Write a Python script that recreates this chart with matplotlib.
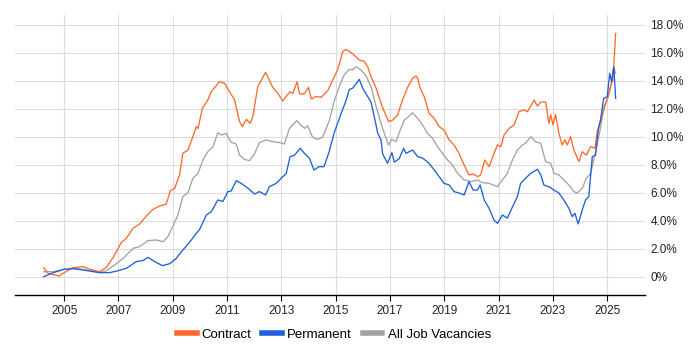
import matplotlib
matplotlib.use("Agg")
import matplotlib.pyplot as plt
from matplotlib.ticker import FuncFormatter

# (year, % of vacancies)
contract = [
    (2004.25, 0.66), (2004.41, 0.26), (2004.82, 0.07), (2005.0, 0.31), (2005.33, 0.66),
    (2005.7, 0.74), (2005.95, 0.55), (2006.31, 0.38), (2006.56, 0.69), (2006.86, 1.57),
    (2007.11, 2.48), (2007.29, 2.76), (2007.54, 3.48), (2007.78, 3.79), (2008.03, 4.36),
    (2008.27, 4.83), (2008.52, 5.07), (2008.76, 5.21), (2008.91, 6.16), (2009.07, 6.33),
    (2009.25, 7.29), (2009.37, 8.83), (2009.56, 9.07), (2009.74, 10.02), (2009.87, 10.74),
    (2009.93, 10.6), (2010.09, 12.05), (2010.29, 12.64), (2010.42, 13.24), (2010.72, 13.95),
    (2010.91, 13.83), (2011.09, 13.24), (2011.28, 12.64), (2011.36, 11.93), (2011.46, 11.1),
    (2011.56, 10.74), (2011.71, 11.26), (2011.85, 10.98), (2011.95, 11.45), (2012.13, 13.6),
    (2012.42, 14.62), (2012.68, 13.55), (2012.87, 13.12), (2013.05, 12.57), (2013.17, 12.88),
    (2013.32, 13.24), (2013.42, 13.1), (2013.58, 13.95), (2013.67, 13.07), (2013.85, 13.1),
    (2014.0, 13.55), (2014.1, 12.71), (2014.28, 12.9), (2014.46, 12.83), (2014.71, 13.31),
    (2014.89, 14.07), (2015.07, 14.79), (2015.26, 16.1), (2015.38, 16.26), (2015.5, 16.12),
    (2015.63, 15.93), (2015.87, 15.5), (2016.05, 15.4), (2016.18, 15.02), (2016.3, 14.31),
    (2016.49, 13.48), (2016.67, 12.4), (2016.79, 11.81), (2016.95, 11.1), (2017.1, 11.21),
    (2017.28, 11.57), (2017.46, 12.64), (2017.65, 13.55), (2017.83, 14.19), (2017.96, 14.36),
    (2018.02, 14.19), (2018.1, 13.55), (2018.26, 12.88), (2018.44, 11.69), (2018.63, 11.33),
    (2018.81, 10.74), (2018.99, 10.5), (2019.18, 9.79), (2019.36, 9.43), (2019.54, 8.83),
    (2019.73, 8.0), (2019.91, 7.29), (2020.06, 7.36), (2020.22, 7.17), (2020.34, 7.29),
    (2020.49, 8.36), (2020.65, 7.88), (2020.83, 8.83), (2020.96, 9.43), (2021.08, 9.3),
    (2021.2, 10.14), (2021.39, 10.62), (2021.57, 10.86), (2021.75, 11.81), (2021.94, 11.93),
    (2022.06, 11.8), (2022.18, 12.2), (2022.31, 12.64), (2022.43, 12.2), (2022.55, 12.5),
    (2022.73, 12.5), (2022.79, 11.8), (2022.85, 10.98), (2022.92, 11.6), (2023.0, 10.86),
    (2023.1, 11.6), (2023.22, 10.26), (2023.34, 9.43), (2023.44, 9.79), (2023.53, 9.43),
    (2023.65, 10.02), (2023.77, 9.07), (2023.96, 8.24), (2024.08, 8.95), (2024.23, 8.7),
    (2024.39, 9.31), (2024.55, 9.2), (2024.63, 10.38), (2024.82, 11.57), (2025.0, 12.76),
    (2025.12, 13.6), (2025.21, 14.07), (2025.31, 17.4),
]

permanent = [
    (2004.25, 0.02), (2004.6, 0.31), (2005.0, 0.55), (2005.33, 0.6), (2005.7, 0.5),
    (2006.31, 0.31), (2006.68, 0.31), (2006.99, 0.45), (2007.29, 0.62), (2007.66, 1.1),
    (2007.9, 1.17), (2008.09, 1.4), (2008.33, 1.1), (2008.62, 0.81), (2008.89, 0.95),
    (2009.13, 1.33), (2009.32, 1.81), (2009.5, 2.21), (2009.68, 2.64), (2009.87, 3.12),
    (2009.99, 3.4), (2010.24, 4.43), (2010.42, 4.67), (2010.66, 5.5), (2010.85, 5.4),
    (2011.03, 6.1), (2011.15, 6.14), (2011.34, 6.88), (2011.52, 6.69), (2011.76, 6.36),
    (2012.01, 5.93), (2012.19, 6.1), (2012.42, 5.86), (2012.56, 6.45), (2012.81, 6.69),
    (2012.99, 7.05), (2013.18, 7.4), (2013.32, 8.6), (2013.48, 8.7), (2013.7, 9.19),
    (2013.85, 8.83), (2014.03, 8.5), (2014.2, 7.64), (2014.39, 7.88), (2014.57, 7.88),
    (2014.76, 8.95), (2014.94, 10.26), (2015.18, 11.57), (2015.38, 12.6), (2015.5, 13.38),
    (2015.63, 13.5), (2015.75, 13.8), (2015.87, 14.12), (2015.99, 13.5), (2016.18, 12.88),
    (2016.3, 12.5), (2016.42, 11.45), (2016.55, 10.26), (2016.67, 9.79), (2016.73, 8.79),
    (2016.91, 8.12), (2017.07, 8.88), (2017.16, 8.2), (2017.34, 8.45), (2017.5, 9.19),
    (2017.59, 8.83), (2017.83, 9.07), (2018.02, 8.6), (2018.2, 8.5), (2018.44, 8.12),
    (2018.63, 7.64), (2018.81, 7.17), (2018.99, 6.69), (2019.18, 6.57), (2019.36, 6.1),
    (2019.54, 6.0), (2019.73, 5.86), (2019.91, 6.81), (2020.06, 6.21), (2020.22, 6.21),
    (2020.32, 6.57), (2020.47, 5.5), (2020.65, 4.9), (2020.83, 4.07), (2020.96, 3.83),
    (2021.14, 4.43), (2021.32, 4.2), (2021.51, 5.0), (2021.69, 5.74), (2021.81, 6.69),
    (2021.99, 7.05), (2022.18, 7.4), (2022.43, 7.69), (2022.55, 7.3), (2022.67, 6.57),
    (2022.85, 6.45), (2023.04, 6.21), (2023.22, 6.0), (2023.4, 5.5), (2023.59, 4.9),
    (2023.71, 4.31), (2023.81, 4.55), (2023.93, 3.79), (2024.08, 4.79), (2024.2, 5.5),
    (2024.32, 5.74), (2024.45, 8.6), (2024.57, 8.7), (2024.67, 10.5), (2024.75, 11.2),
    (2024.87, 12.76), (2025.0, 12.88), (2025.09, 14.55), (2025.16, 13.95), (2025.24, 15.02),
    (2025.31, 12.76),
]

all_jobs = [
    (2004.25, 0.38), (2004.6, 0.38), (2005.0, 0.55), (2005.33, 0.6), (2005.7, 0.55),
    (2006.31, 0.31), (2006.56, 0.45), (2006.86, 0.86), (2007.17, 1.33), (2007.54, 2.05),
    (2007.78, 2.17), (2008.09, 2.6), (2008.4, 2.64), (2008.64, 2.52), (2008.82, 2.88),
    (2009.0, 3.6), (2009.19, 4.43), (2009.37, 5.74), (2009.56, 6.02), (2009.74, 7.05),
    (2009.93, 7.4), (2010.11, 8.36), (2010.29, 8.95), (2010.48, 9.3), (2010.66, 10.31),
    (2010.79, 10.14), (2010.97, 10.26), (2011.15, 9.62), (2011.34, 9.5), (2011.46, 8.71),
    (2011.64, 8.4), (2011.83, 8.31), (2012.01, 8.79), (2012.19, 9.6), (2012.44, 9.79),
    (2012.68, 9.67), (2012.93, 9.6), (2013.11, 9.5), (2013.3, 10.62), (2013.57, 11.17),
    (2013.67, 10.93), (2013.85, 10.62), (2013.97, 10.8), (2014.15, 9.98), (2014.34, 9.83),
    (2014.52, 9.98), (2014.77, 11.2), (2014.94, 12.52), (2015.13, 13.6), (2015.31, 14.43),
    (2015.5, 14.83), (2015.63, 14.79), (2015.75, 15.02), (2015.93, 14.79), (2016.12, 14.36),
    (2016.3, 13.6), (2016.49, 12.17), (2016.67, 10.98), (2016.79, 10.26), (2016.95, 9.43),
    (2017.07, 9.83), (2017.22, 9.67), (2017.4, 10.62), (2017.53, 11.21), (2017.71, 11.5),
    (2017.83, 11.74), (2018.02, 11.33), (2018.2, 10.86), (2018.38, 10.26), (2018.57, 9.9),
    (2018.75, 9.3), (2018.93, 8.83), (2019.12, 8.36), (2019.3, 8.0), (2019.49, 7.4),
    (2019.73, 6.93), (2019.98, 6.81), (2020.22, 6.93), (2020.4, 6.74), (2020.65, 6.69),
    (2020.96, 6.45), (2021.14, 6.93), (2021.32, 7.4), (2021.51, 8.36), (2021.69, 9.07),
    (2021.88, 9.43), (2021.99, 9.55), (2022.18, 10.02), (2022.36, 9.67), (2022.55, 9.55),
    (2022.73, 8.24), (2022.92, 8.12), (2023.04, 7.4), (2023.22, 7.29), (2023.4, 6.93),
    (2023.59, 6.57), (2023.77, 6.1), (2023.89, 6.0), (2024.08, 6.33), (2024.23, 7.05),
    (2024.39, 7.4), (2024.57, 8.95), (2024.75, 10.62), (2024.87, 12.14), (2025.0, 12.64),
    (2025.12, 13.48), (2025.24, 15.02), (2025.31, 14.55),
]

year_ticks = list(range(2005, 2026, 2))
pct_ticks = [0, 2, 4, 6, 8, 10, 12, 14, 16, 18]

plt.rcParams["font.family"] = ["Liberation Sans", "DejaVu Sans"]

fig = plt.figure(figsize=(7, 3.5), dpi=100)
ax = fig.add_axes([0.0214, 0.157, 0.9, 0.8])

def split(pts):
    return [p[0] for p in pts], [p[1] for p in pts]

x, y = split(all_jobs)
ax.plot(x, y, color="#a3a3a3", lw=0.95, label="All Job Vacancies", zorder=2)
x, y = split(contract)
ax.plot(x, y, color="#ff6a2b", lw=0.95, label="Contract", zorder=3)
x, y = split(permanent)
ax.plot(x, y, color="#1f5fd8", lw=0.95, label="Permanent", zorder=4)

ax.set_xlim(2003.19, 2026.39)
ax.set_ylim(-1.29, 18.71)
ax.set_xticks(year_ticks)
ax.set_yticks(pct_ticks)
ax.yaxis.set_major_formatter(FuncFormatter(lambda v, p: "0%" if v == 0 else "%.1f%%" % v))
ax.yaxis.tick_right()
ax.tick_params(axis="y", length=0, pad=4, labelsize=8.5, colors="#222222")
ax.tick_params(axis="x", length=4, width=0.8, pad=3, labelsize=8.5, colors="#222222")
ax.tick_params(axis="x", color="black")
ax.grid(True, color="#dcdcdc", lw=0.8)
ax.set_axisbelow(True)
for s in ["top", "left", "right"]:
    ax.spines[s].set_visible(False)
ax.spines["bottom"].set_color("black")
ax.spines["bottom"].set_linewidth(1.0)

handles, labels = ax.get_legend_handles_labels()
order = [1, 2, 0]
leg = fig.legend([handles[i] for i in order], [labels[i] for i in order],
                 loc="center", bbox_to_anchor=(0.477, 0.043), ncol=3, frameon=False,
                 fontsize=9.5, handlelength=1.5, handletextpad=0.4, columnspacing=0.8)
for h in leg.legend_handles:
    h.set_linewidth(4)

fig.savefig("out.png", dpi=100)
